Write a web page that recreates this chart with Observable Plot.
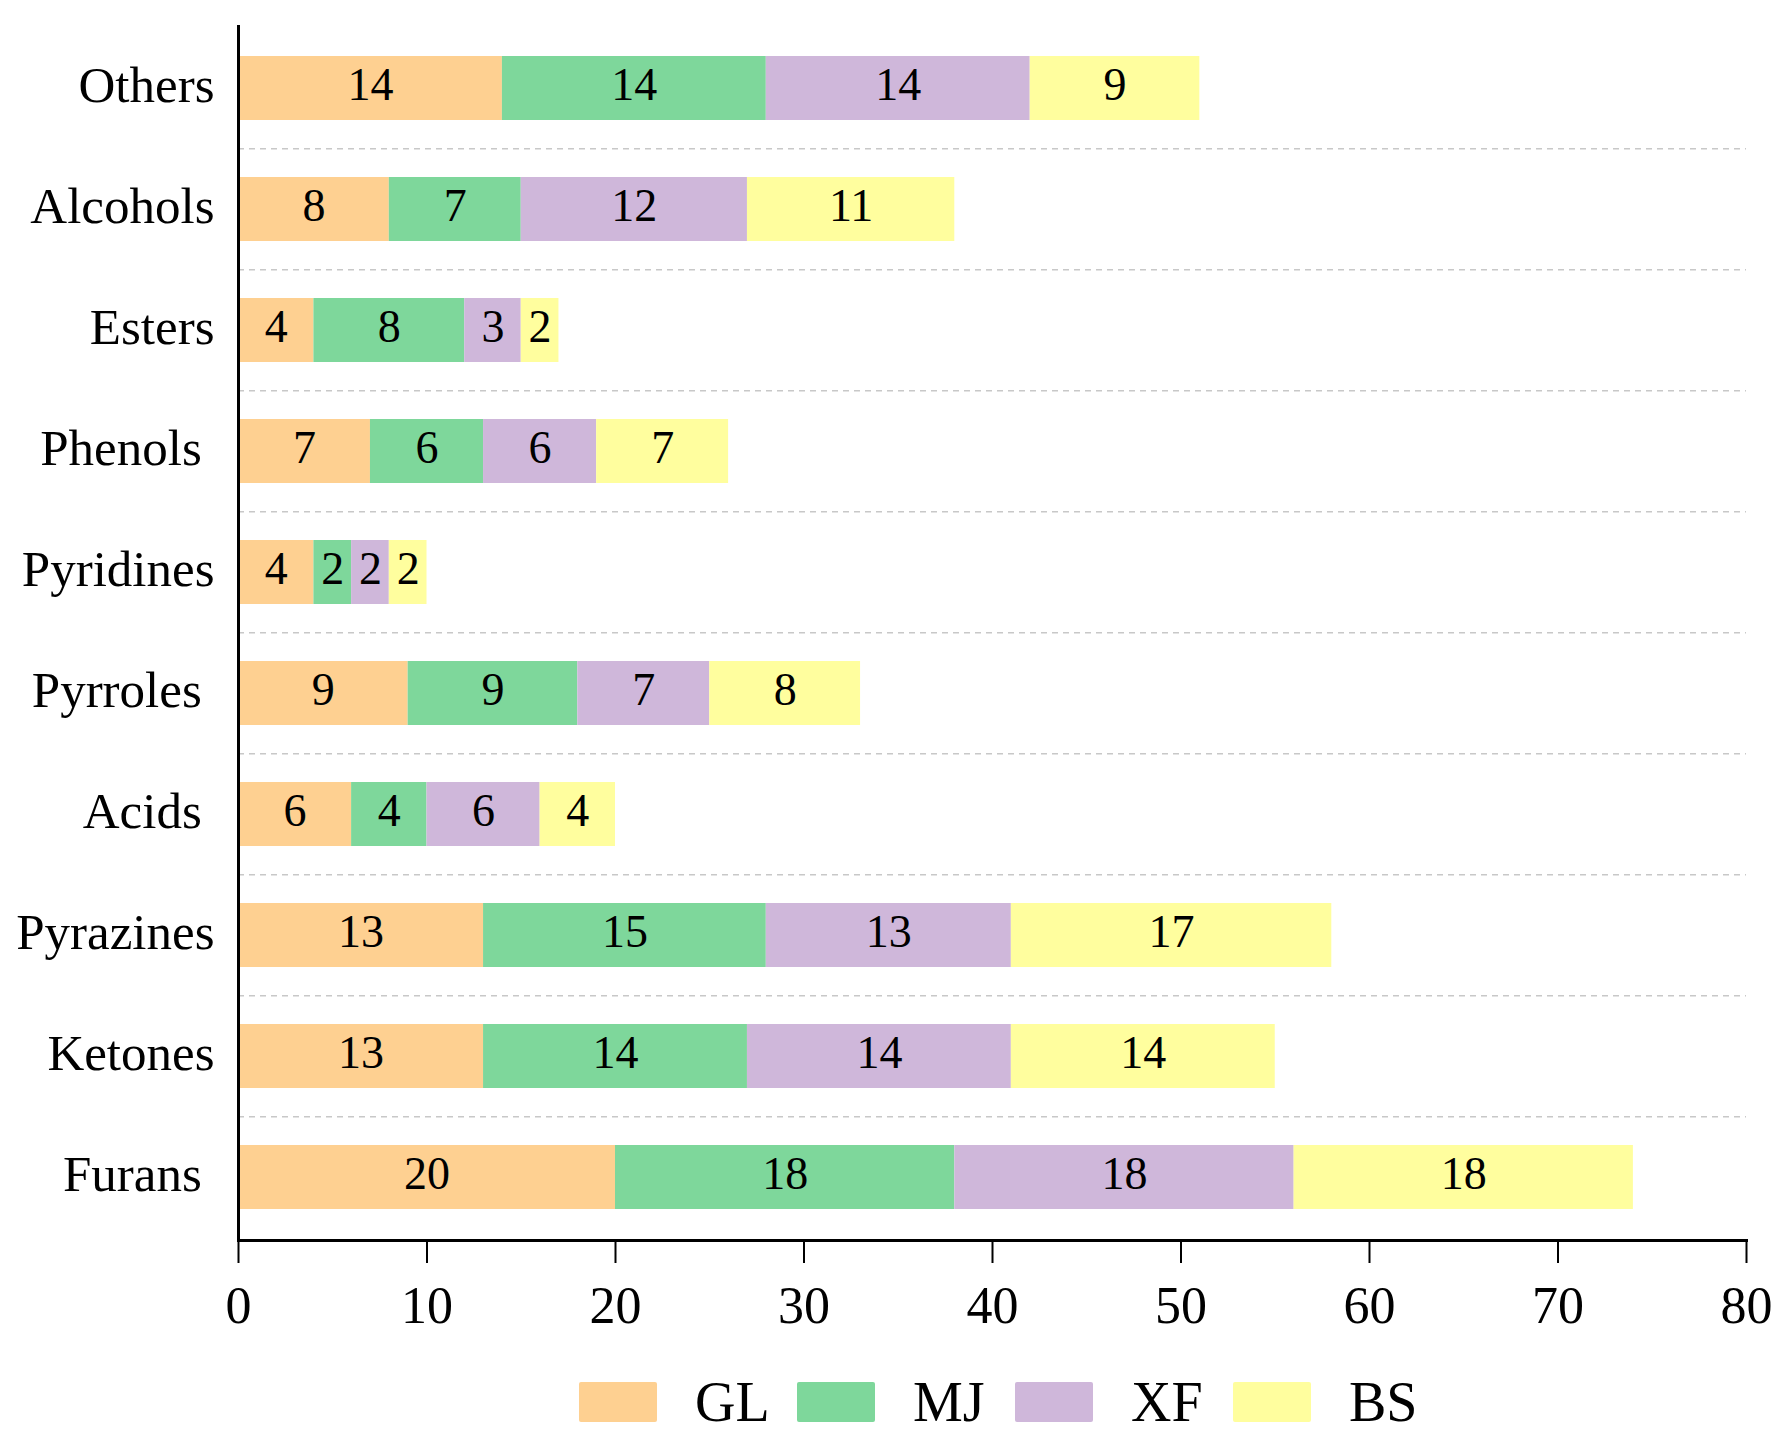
<!DOCTYPE html>
<html>
<head>
<meta charset="utf-8">
<script src="https://cdn.jsdelivr.net/npm/d3@7"></script>
<script src="https://cdn.jsdelivr.net/npm/@observablehq/plot@0.6"></script>
<style>
  html, body { margin: 0; padding: 0; background: white; }
  body { font-family: "Liberation Serif", "Times New Roman", serif; }
  #legend { display: flex; align-items: center; margin-left: 579px; margin-top: 42px; }
  .item { display: flex; align-items: center; width: 218px; }
  .sw { width: 78px; height: 40px; border-radius: 2px; }
  .lab { margin-left: 38px; font-size: 56px; line-height: 40px; color: black; }
</style>
</head>
<body>
<div id="chart"></div>
<div id="legend"></div>
<script>
// categories top to bottom (trailing spaces as in the original labels)
const categories = ["Others", "Alcohols", "Esters", "Phenols ", "Pyridines", "Pyrroles ", "Acids ", "Pyrazines", "Ketones", "Furans "];
const seriesNames = ["GL", "MJ", "XF", "BS"];
const GL = [14, 8, 4, 7, 4, 9, 6, 13, 13, 20];
const MJ = [14, 7, 8, 6, 2, 9, 4, 15, 14, 18];
const XF = [14, 12, 3, 6, 2, 7, 6, 13, 14, 18];
const BS = [9, 11, 2, 7, 2, 8, 4, 17, 14, 18];
const colors = ["#FED091", "#7ED79B", "#CFB7DA", "#FFFE9E"];
const xTicks = [0, 10, 20, 30, 40, 50, 60, 70, 80];

const seriesValues = [GL, MJ, XF, BS];
const data = [];
seriesNames.forEach((s, i) => {
  categories.forEach((c, j) => data.push({category: c, series: s, value: seriesValues[i][j]}));
});

const W = 1779, H = 1340, mt = 25, mb = 100, ml = 238, mr = 33;
const step = (H - mt - mb) / categories.length;

const chart = Plot.plot({
  width: W,
  height: H,
  marginTop: mt,
  marginBottom: mb,
  marginLeft: ml,
  marginRight: mr,
  style: {fontFamily: "Liberation Serif, Times New Roman, serif", background: "white", color: "black", overflow: "visible"},
  x: {domain: [0, 80], label: null},
  y: {domain: categories, paddingInner: 0.47, paddingOuter: 0.235, label: null},
  color: {domain: seriesNames, range: colors},
  marks: [
    Plot.ruleY(categories.slice(1), {y: d => d, dy: -step / 2, stroke: "#c8c8c8", strokeWidth: 1.3, strokeDasharray: "6,5"}),
    Plot.barX(data, Plot.stackX({x: "value", y: "category", z: "series", fill: "series"})),
    Plot.text(data, Plot.stackX({x: "value", y: "category", z: "series", text: d => String(d.value), fontSize: 46, fill: "black", dy: -3})),
    Plot.axisY({tickSize: 0, tickPadding: 24, fontSize: 51, dy: -3, tickFormat: d => d.replace(/ $/, "\u00a0"), label: null}),
    Plot.axisX({ticks: xTicks, tickSize: 23, tickPadding: 23, fontSize: 52, strokeWidth: 2, label: null}),
    Plot.ruleX([0], {stroke: "black", strokeWidth: 3}),
    Plot.frame({anchor: "bottom", stroke: "black", strokeWidth: 3})
  ]
});
document.getElementById("chart").appendChild(chart);

const legend = document.getElementById("legend");
seriesNames.forEach((s, i) => {
  const item = document.createElement("div");
  item.className = "item";
  const sw = document.createElement("div");
  sw.className = "sw";
  sw.style.background = colors[i];
  const lab = document.createElement("span");
  lab.className = "lab";
  lab.textContent = s;
  item.appendChild(sw);
  item.appendChild(lab);
  legend.appendChild(item);
});
</script>
</body>
</html>
